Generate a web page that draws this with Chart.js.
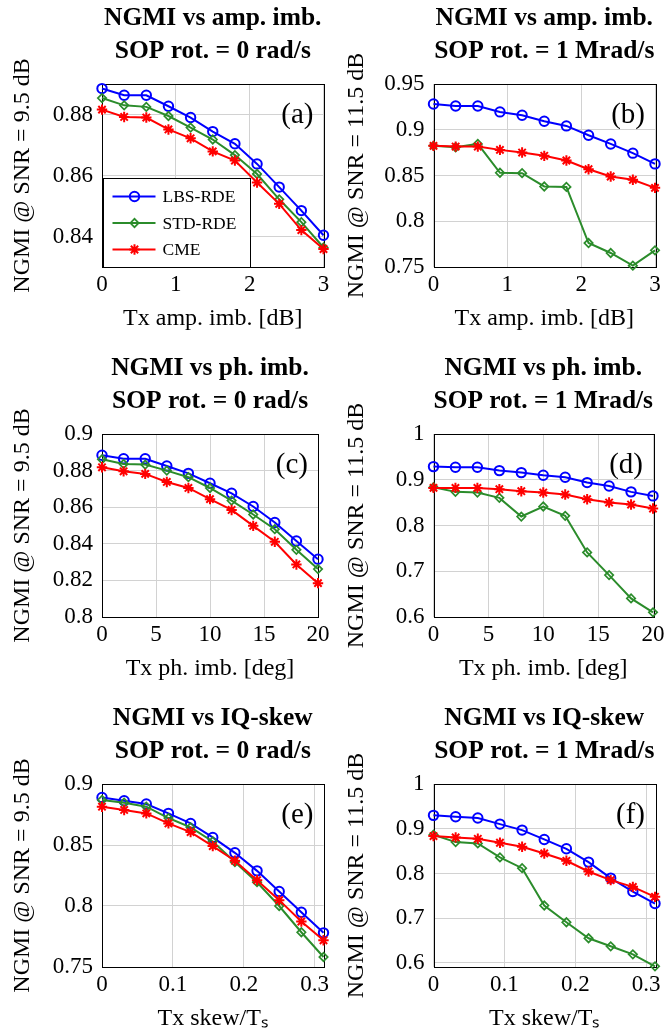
<!DOCTYPE html>
<html>
<head>
<meta charset="utf-8">
<script src="https://cdn.jsdelivr.net/npm/chart.js@4.4.1/dist/chart.umd.min.js"></script>
<style>
html, body { margin: 0; padding: 0; background: #fff; overflow: hidden; }
.panel { position: absolute; }
</style>
</head>
<body>
<div class="panel" style="left:0;top:0;width:334px;height:333px"><canvas id="ca"></canvas></div>
<div class="panel" style="left:334px;top:0;width:335px;height:333px"><canvas id="cb"></canvas></div>
<div class="panel" style="left:0;top:350px;width:334px;height:333px"><canvas id="cc"></canvas></div>
<div class="panel" style="left:334px;top:350px;width:335px;height:333px"><canvas id="cd"></canvas></div>
<div class="panel" style="left:0;top:700px;width:334px;height:333px"><canvas id="ce"></canvas></div>
<div class="panel" style="left:334px;top:700px;width:335px;height:333px"><canvas id="cf"></canvas></div>
<script>
// x positions
var ampX = [0, 0.3, 0.6, 0.9, 1.2, 1.5, 1.8, 2.1, 2.4, 2.7, 3];
var phX = [0, 2, 4, 6, 8, 10, 12, 14, 16, 18, 20];
var skewX = [0, 0.03125, 0.0625, 0.09375, 0.125, 0.15625, 0.1875, 0.21875, 0.25, 0.28125, 0.3125];

var seriesNames = ["LBS-RDE", "STD-RDE", "CME"];

// (a) amp. imb., 0 rad/s
var aLbs = [0.8885, 0.8863, 0.8863, 0.8827, 0.879, 0.8744, 0.8704, 0.8638, 0.8562, 0.8485, 0.8404];
var aStd = [0.8854, 0.883, 0.8825, 0.8795, 0.8757, 0.8718, 0.8667, 0.8605, 0.8522, 0.8447, 0.8364];
var aCme = [0.8816, 0.8792, 0.879, 0.8751, 0.8722, 0.8679, 0.8649, 0.8577, 0.8507, 0.8421, 0.8359];
// (b) amp. imb., 1 Mrad/s
var bLbs = [0.9282, 0.926, 0.926, 0.9195, 0.9158, 0.9093, 0.9042, 0.894, 0.8845, 0.8744, 0.8627];
var bStd = [0.8824, 0.8809, 0.8845, 0.853, 0.8525, 0.838, 0.8375, 0.7762, 0.7653, 0.7515, 0.7682];
var bCme = [0.8824, 0.8816, 0.8816, 0.878, 0.8751, 0.8715, 0.8664, 0.8569, 0.8489, 0.8453, 0.8365];
// (c) ph. imb., 0 rad/s
var cLbs = [0.8884, 0.8865, 0.8865, 0.8825, 0.8785, 0.8731, 0.8676, 0.8604, 0.8516, 0.8415, 0.8316];
var cStd = [0.8862, 0.8836, 0.8833, 0.88, 0.8764, 0.8705, 0.8636, 0.856, 0.848, 0.8367, 0.8262];
var cCme = [0.8818, 0.8796, 0.8782, 0.8738, 0.8705, 0.8644, 0.8585, 0.8498, 0.8411, 0.8287, 0.8185];
// (d) ph. imb., 1 Mrad/s
var dLbs = [0.9287, 0.9273, 0.9273, 0.92, 0.9156, 0.9098, 0.9055, 0.8938, 0.8865, 0.8735, 0.8647];
var dStd = [0.8836, 0.8735, 0.872, 0.8604, 0.8196, 0.8415, 0.8211, 0.7411, 0.6916, 0.6407, 0.6102];
var dCme = [0.8822, 0.8822, 0.8822, 0.8793, 0.8749, 0.872, 0.8676, 0.8575, 0.8502, 0.8458, 0.8371];
// (e) IQ-skew, 0 rad/s
var eLbs = [0.889, 0.8863, 0.8836, 0.8759, 0.8677, 0.8562, 0.8436, 0.8288, 0.8119, 0.7949, 0.778];
var eStd = [0.8869, 0.8847, 0.8814, 0.8721, 0.8644, 0.8529, 0.836, 0.8195, 0.8, 0.7785, 0.7582];
var eCme = [0.8814, 0.8787, 0.8759, 0.8677, 0.8606, 0.8491, 0.8371, 0.8212, 0.8048, 0.7873, 0.7719];
// (f) IQ-skew, 1 Mrad/s
var fLbs = [0.9299, 0.9269, 0.9239, 0.9104, 0.897, 0.8761, 0.8552, 0.8254, 0.7896, 0.7597, 0.7328];
var fStd = [0.8866, 0.8701, 0.8672, 0.8358, 0.8119, 0.7284, 0.691, 0.6552, 0.6373, 0.6194, 0.5925];
var fCme = [0.8836, 0.8806, 0.8776, 0.8687, 0.8597, 0.8448, 0.8284, 0.8045, 0.7851, 0.7701, 0.7478];

// tick labels
var ampTicks = [0, 1, 2, 3];
var phTicks = [0, 5, 10, 15, 20];
var skewTicks = [0, 0.1, 0.2, 0.3];
var yTicksA = [0.84, 0.86, 0.88];
var yTicksB = [0.75, 0.8, 0.85, 0.9, 0.95];
var yTicksC = [0.8, 0.82, 0.84, 0.86, 0.88, 0.9];
var yTicksD = [0.6, 0.7, 0.8, 0.9, 1];
var yTicksE = [0.75, 0.8, 0.85, 0.9];
var yTicksF = [0.6, 0.7, 0.8, 0.9, 1];

var FONT = "'Liberation Serif', 'Times New Roman', serif";
var GRID = "#d2d2d2";

var styles = [
	{ borderColor: "#0000ff", pointBorderColor: "#0000ff", pointStyle: "circle", pointRadius: 4.7, pointBorderWidth: 2, order: 3 },
	{ borderColor: "#2b8c2b", pointBorderColor: "#2b8c2b", pointStyle: "rectRot", pointRadius: 4.2, pointBorderWidth: 1.7, order: 2 },
	{ borderColor: "#ff0000", pointBorderColor: "#ff0000", pointStyle: "star", pointRadius: 5.2, pointBorderWidth: 2, order: 1 },
];

var framePlugin = {
	id: "frame",
	beforeDatasetsDraw(chart) {
		var a = chart.chartArea, ctx = chart.ctx;
		ctx.save();
		ctx.strokeStyle = "#000";
		ctx.lineWidth = 1;
		ctx.strokeRect(Math.round(a.left) + 0.5, Math.round(a.top) + 0.5, Math.round(a.right - a.left), Math.round(a.bottom - a.top));
		ctx.restore();
	},
};

var tagPlugin = {
	id: "panelTag",
	afterDraw(chart, args, opts) {
		var a = chart.chartArea, ctx = chart.ctx;
		ctx.save();
		ctx.font = "29px " + FONT;
		ctx.fillStyle = "#000";
		ctx.textAlign = "right";
		ctx.textBaseline = "alphabetic";
		ctx.fillText(opts.text, a.right - 10, a.top + 39);
		ctx.restore();
	},
};

var legendPlugin = {
	id: "boxLegend",
	afterDraw(chart, args, opts) {
		if (!opts.show) return;
		var a = chart.chartArea, ctx = chart.ctx;
		var x0 = Math.round(a.left) + 1.5, w = 147, h = 89;
		var y0 = Math.round(a.bottom) - h + 0.5;
		ctx.save();
		ctx.fillStyle = "#fff";
		ctx.fillRect(x0, y0, w, h);
		ctx.strokeStyle = "#000";
		ctx.lineWidth = 1;
		ctx.strokeRect(x0, y0, w, h);
		chart.data.datasets.forEach(function (ds, k) {
			var y = y0 + 18 + k * 26.5;
			ctx.strokeStyle = ds.borderColor;
			ctx.lineWidth = 2;
			ctx.beginPath();
			ctx.moveTo(x0 + 9, y);
			ctx.lineTo(x0 + 52, y);
			ctx.stroke();
			ctx.fillStyle = "rgba(0,0,0,0)";
			ctx.lineWidth = ds.pointBorderWidth;
			Chart.helpers.drawPoint(ctx, { pointStyle: ds.pointStyle, radius: ds.pointRadius, rotation: 0, borderWidth: ds.pointBorderWidth }, x0 + 31, y);
			ctx.fillStyle = "#000";
			ctx.font = "17.5px " + FONT;
			ctx.textAlign = "left";
			ctx.textBaseline = "middle";
			ctx.fillText(ds.label, x0 + 59, y + 1);
		});
		ctx.restore();
	},
};

function makePanel(id, p) {
	var datasets = p.series.map(function (vals, k) {
		return Object.assign({
			label: seriesNames[k],
			data: p.x.map(function (x, i) { return { x: x, y: vals[i] }; }),
			xAxisID: "x",
			yAxisID: "y",
			borderWidth: 2,
			pointBackgroundColor: "rgba(0,0,0,0)",
			tension: 0,
			clip: false,
		}, styles[k]);
	});
	return new Chart(document.getElementById(id), {
		type: "line",
		data: { datasets: datasets },
		options: {
			animation: false,
			responsive: true,
			maintainAspectRatio: false,
			devicePixelRatio: 1,
			events: [],
			layout: { padding: { left: 0, top: 0, bottom: 0, right: p.padRight } },
			plugins: {
				legend: { display: false },
				tooltip: { enabled: false },
				title: { display: false },
				panelTag: { text: p.tag },
				boxLegend: { show: !!p.legend },
			},
			scales: {
				xTop: {
					type: "linear",
					position: "top",
					grid: { display: false, drawTicks: false },
					border: { display: false },
					ticks: { display: false },
					title: { display: true, text: p.title, color: "#000", font: { family: FONT, size: 25.5, weight: "bold", lineHeight: 1.3 }, padding: { top: 1.5, bottom: 0 } },
					afterFit: function (s) { s.height = 84; },
				},
				x: {
					type: "linear",
					position: "bottom",
					min: p.xMin,
					max: p.xMax,
					afterBuildTicks: function (s) { s.ticks = p.xTicks.map(function (v) { return { value: v }; }); },
					grid: { color: GRID, lineWidth: 1, drawTicks: false },
					border: { display: false },
					ticks: { color: "#000", font: { family: FONT, size: 23 }, padding: 4.5, maxRotation: 0, autoSkip: false, callback: function (v) { return String(v); } },
					title: { display: true, text: p.xLabel, color: "#000", font: { family: FONT, size: 24 }, padding: { top: 0, bottom: 0 } },
					afterFit: function (s) { s.height = 66; },
				},
				y: {
					type: "linear",
					position: "left",
					min: p.yMin,
					max: p.yMax,
					afterBuildTicks: function (s) { s.ticks = p.yTicks.map(function (v) { return { value: v }; }); },
					grid: { color: GRID, lineWidth: 1, drawTicks: false },
					border: { display: false },
					ticks: { color: "#000", font: { family: FONT, size: 23 }, padding: 9, autoSkip: false, callback: function (v) { return String(v); } },
					title: { display: true, text: p.yLabel, color: "#000", font: { family: FONT, size: 24 }, padding: { top: 8.5, bottom: 0 } },
					afterFit: function (s) { s.width = p.yWidth; },
				},
			},
		},
		plugins: [framePlugin, tagPlugin, legendPlugin],
	});
}

var leftCol = { yWidth: 102, padRight: 10.5, yLabel: "NGMI @ SNR = 9.5 dB" };
var rightCol = { yWidth: 99.5, padRight: 14, yLabel: "NGMI @ SNR = 11.5 dB" };

makePanel("ca", Object.assign({}, leftCol, {
	title: ["NGMI vs amp. imb.", "SOP rot. = 0 rad/s"], tag: "(a)", legend: true,
	x: ampX, xMin: 0, xMax: 3, xTicks: ampTicks, xLabel: "Tx amp. imb. [dB]",
	yMin: 0.83, yMax: 0.89, yTicks: yTicksA, series: [aLbs, aStd, aCme],
}));
makePanel("cb", Object.assign({}, rightCol, {
	title: ["NGMI vs amp. imb.", "SOP rot. = 1 Mrad/s"], tag: "(b)",
	x: ampX, xMin: 0, xMax: 3, xTicks: ampTicks, xLabel: "Tx amp. imb. [dB]",
	yMin: 0.75, yMax: 0.95, yTicks: yTicksB, series: [bLbs, bStd, bCme],
}));
makePanel("cc", Object.assign({}, leftCol, {
	title: ["NGMI vs ph. imb.", "SOP rot. = 0 rad/s"], tag: "(c)",
	x: phX, xMin: 0, xMax: 20, xTicks: phTicks, xLabel: "Tx ph. imb. [deg]",
	yMin: 0.8, yMax: 0.9, yTicks: yTicksC, series: [cLbs, cStd, cCme],
}));
makePanel("cd", Object.assign({}, rightCol, {
	title: ["NGMI vs ph. imb.", "SOP rot. = 1 Mrad/s"], tag: "(d)",
	x: phX, xMin: 0, xMax: 20, xTicks: phTicks, xLabel: "Tx ph. imb. [deg]",
	yMin: 0.6, yMax: 1, yTicks: yTicksD, series: [dLbs, dStd, dCme],
}));
makePanel("ce", Object.assign({}, leftCol, {
	title: ["NGMI vs IQ-skew", "SOP rot. = 0 rad/s"], tag: "(e)",
	x: skewX, xMin: 0, xMax: 0.3125, xTicks: skewTicks, xLabel: "Tx skew/T\u209b",
	yMin: 0.75, yMax: 0.9, yTicks: yTicksE, series: [eLbs, eStd, eCme],
}));
makePanel("cf", Object.assign({}, rightCol, {
	title: ["NGMI vs IQ-skew", "SOP rot. = 1 Mrad/s"], tag: "(f)",
	x: skewX, xMin: 0, xMax: 0.3125, xTicks: skewTicks, xLabel: "Tx skew/T\u209b",
	yMin: 0.591, yMax: 1, yTicks: yTicksF, series: [fLbs, fStd, fCme],
}));
</script>
</body>
</html>
